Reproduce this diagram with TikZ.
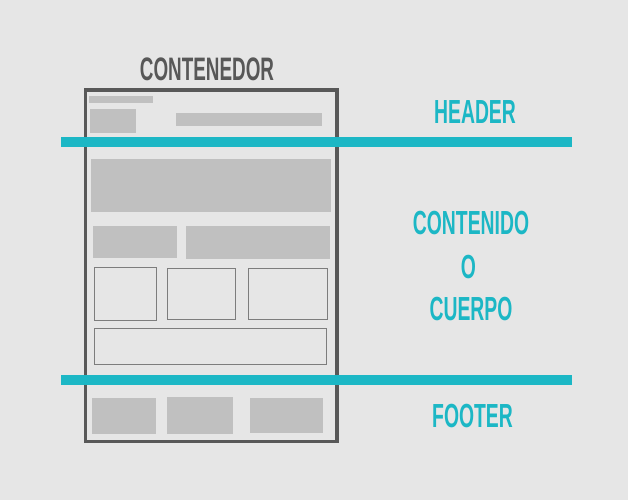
\documentclass[tikz,border=0pt]{standalone}
\usepackage{fontspec}
\newfontfamily\condfont[FakeStretch=0.58]{Liberation Sans}
\definecolor{fondo}{RGB}{230,230,230}
\definecolor{relleno}{RGB}{192,192,192}
\definecolor{marco}{RGB}{88,88,88}
\definecolor{borde}{RGB}{125,125,125}
\definecolor{turquesa}{RGB}{28,183,197}
\tikzset{
	bloque/.style={fill=relleno},
	caja/.style={draw=borde, line width=0.7pt},
	franja/.style={fill=turquesa},
	titulo/.style={font=\condfont\bfseries\fontsize{19}{22}\selectfont, text=turquesa, inner sep=0pt},
}
\begin{document}
\begin{tikzpicture}[x=0.02cm, y=-0.02cm]
	\useasboundingbox (0, 0) rectangle (628, 500);
		\fill[fondo] (0, 0) rectangle (628, 500);
		\node (contenedor) [titulo, text=marco, font=\condfont\bfseries\fontsize{18.5}{22}\selectfont] at (207, 69) {CONTENEDOR};
		\fill[bloque] (89, 96) rectangle (153, 103);
		\fill[bloque] (90, 109) rectangle (136, 133);
		\fill[bloque] (176, 113) rectangle (322, 126);
		\fill[bloque] (91, 159) rectangle (331, 212);
		\fill[bloque] (93, 226) rectangle (177, 258);
		\fill[bloque] (186, 226) rectangle (330, 259);
		\draw[caja] (94.5, 267.5) rectangle (156.5, 320.5);
		\draw[caja] (167.5, 268.5) rectangle (235.5, 319.5);
		\draw[caja] (248.5, 268.5) rectangle (327.5, 319.5);
		\draw[caja] (94.5, 328.5) rectangle (326.5, 364.5);
		\fill[bloque] (92, 398) rectangle (156, 434);
		\fill[bloque] (167, 397) rectangle (233, 434);
		\fill[bloque] (250, 398) rectangle (323, 433);
		\draw[marco, line width=2pt] (85.5, 90) rectangle (337, 441.5);
		\fill[franja] (61, 137) rectangle (572, 146.5);
		\fill[franja] (61, 375) rectangle (572, 384.5);
		\node (header) [titulo] at (475, 112.5) {HEADER};
		\node (contenido) [titulo] at (471, 223.5) {CONTENIDO};
		\node (o) [titulo] at (468.5, 267.5) {O};
		\node (cuerpo) [titulo] at (471, 309) {CUERPO};
		\node (footer) [titulo] at (472.5, 416) {FOOTER};
	\end{tikzpicture}
\end{document}
